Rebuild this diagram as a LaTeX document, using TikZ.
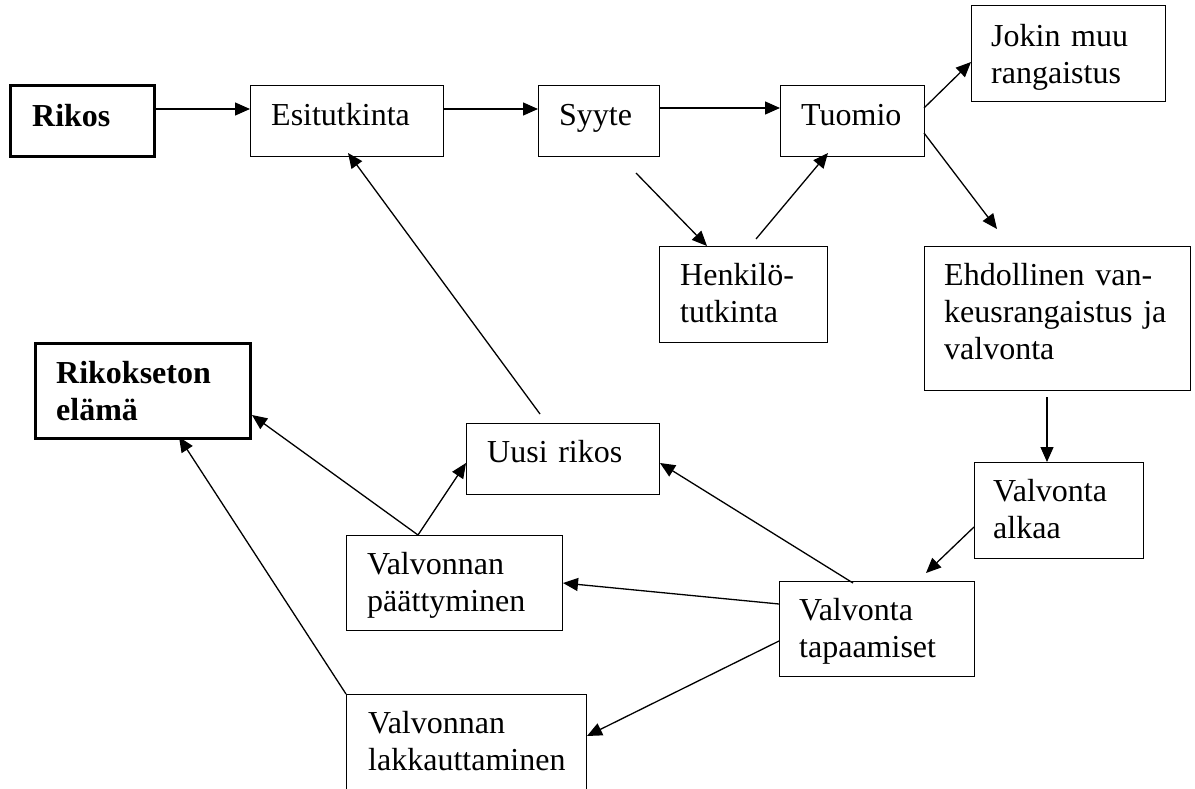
\documentclass[tikz,border=0pt]{standalone}
\usepackage{fontspec}
\setmainfont{Liberation Serif}
\usetikzlibrary{calc,arrows.meta}
\tikzset{
  box/.style={draw, line width=1pt, anchor=north west, inner sep=0pt, outer sep=0pt},
  thickbox/.style={box, line width=3pt},
  lbl/.style={anchor=base west, inner sep=0pt, text width=300pt, align=left,
    font=\fontsize{32}{37}\selectfont},
  arr/.style={line width=1.3pt, -{Triangle[length=15pt,width=13pt]}},
}
\newcommand\mkbox[6][box]{%
  \node[#1, minimum width={(#5)-(#3)}, minimum height={(#6)-(#4)}] (#2) at (#3,#4) {};}
\begin{document}
\begin{tikzpicture}[x=1pt,y=-1pt]
\useasboundingbox (0,0) rectangle (1195,789);
% boxes
\mkbox[thickbox]{rikos}{10}{86}{154}{157}
\mkbox{esit}{250}{86}{443}{157}
\mkbox{syyte}{538}{86}{659}{157}
\mkbox{tuomio}{780}{86}{924}{157}
\mkbox{jokin}{971}{6}{1165}{102}
\mkbox{henk}{659}{246}{827}{342}
\mkbox{ehd}{924}{246}{1190}{390}
\mkbox[thickbox]{rikokseton}{35}{343}{250}{438}
\mkbox{uusi}{466}{423}{659}{494}
\mkbox{alkaa}{974}{462}{1143}{558}
\mkbox{paatt}{346}{535}{562}{630}
\mkbox{tap}{779}{581}{974}{676}
\mkbox{lakk}{346}{694}{586}{830}
% texts
\node[lbl] (rikos-t) at ($(rikos.north west)+(22,41)$) {\bfseries Rikos};
\node[lbl] (esit-t) at ($(esit.north west)+(21,40)$) {Esitutkinta};
\node[lbl] (syyte-t) at ($(syyte.north west)+(21,40)$) {Syyte};
\node[lbl] (tuomio-t) at ($(tuomio.north west)+(21,40)$) {Tuomio};
\node[lbl] (jokin-t) at ($(jokin.north west)+(20,41)$) {Jokin muu\\rangaistus};
\node[lbl] (henk-t) at ($(henk.north west)+(21,39)$) {Henkilö-\\tutkinta};
\node[lbl] (ehd-t) at ($(ehd.north west)+(20,39)$) {Ehdollinen van-\\keusrangaistus ja\\valvonta};
\node[lbl] (rikokseton-t) at ($(rikokseton.north west)+(21,40)$) {\bfseries Rikokseton\\elämä};
\node[lbl] (uusi-t) at ($(uusi.north west)+(21,39)$) {Uusi rikos};
\node[lbl] (alkaa-t) at ($(alkaa.north west)+(19,39)$) {Valvonta\\alkaa};
\node[lbl] (paatt-t) at ($(paatt.north west)+(21,39)$) {Valvonnan\\päättyminen};
\node[lbl] (tap-t) at ($(tap.north west)+(20,39)$) {Valvonta\\tapaamiset};
\node[lbl] (lakk-t) at ($(lakk.north west)+(22,39)$) {Valvonnan\\lakkauttaminen};
% connectors
\draw[arr] ($(rikos.north east)+(0,23)$) -- ($(esit.north west)+(0,23)$);
\draw[arr] ($(esit.north east)+(0,23)$) -- ($(syyte.north west)+(0,23)$);
\draw[arr] ($(syyte.north east)+(0,22)$) -- ($(tuomio.north west)+(0,22)$);
\draw[arr] ($(tuomio.north east)+(0,22)$) -- ($(jokin.north west)+(0,56)$);
\draw[arr] ($(tuomio.north east)+(0,47)$) -- ($(ehd.north west)+(73,-17)$);
\draw[arr] ($(syyte.south west)+(98,16)$) -- ($(henk.north west)+(48,0)$);
\draw[arr] ($(henk.north west)+(97,-7)$) -- ($(tuomio.south west)+(48,-4)$);
\draw[arr] ($(uusi.north west)+(74,-9)$) -- ($(esit.south west)+(98,-4)$);
\draw[arr] ($(ehd.south west)+(123,7)$) -- ($(alkaa.north west)+(73,0)$);
\draw[arr] ($(alkaa.north west)+(0,65)$) -- ($(tap.north west)+(147,-8)$);
\draw[arr] ($(tap.north west)+(74,2)$) -- ($(uusi.north east)+(1,40)$);
\draw[arr] ($(tap.north west)+(0,23)$) -- ($(paatt.north east)+(1,48)$);
\draw[arr] ($(tap.north west)+(0,60)$) -- ($(lakk.north east)+(1,42)$);
\draw[arr] ($(paatt.north west)+(72,0)$) -- ($(uusi.north west)+(0,40)$);
\draw[arr] ($(paatt.north west)+(72,0)$) -- ($(rikokseton.north east)+(2,72)$);
\draw[arr] (lakk.north west) -- ($(rikokseton.south west)+(144,-1)$);
\end{tikzpicture}
\end{document}
